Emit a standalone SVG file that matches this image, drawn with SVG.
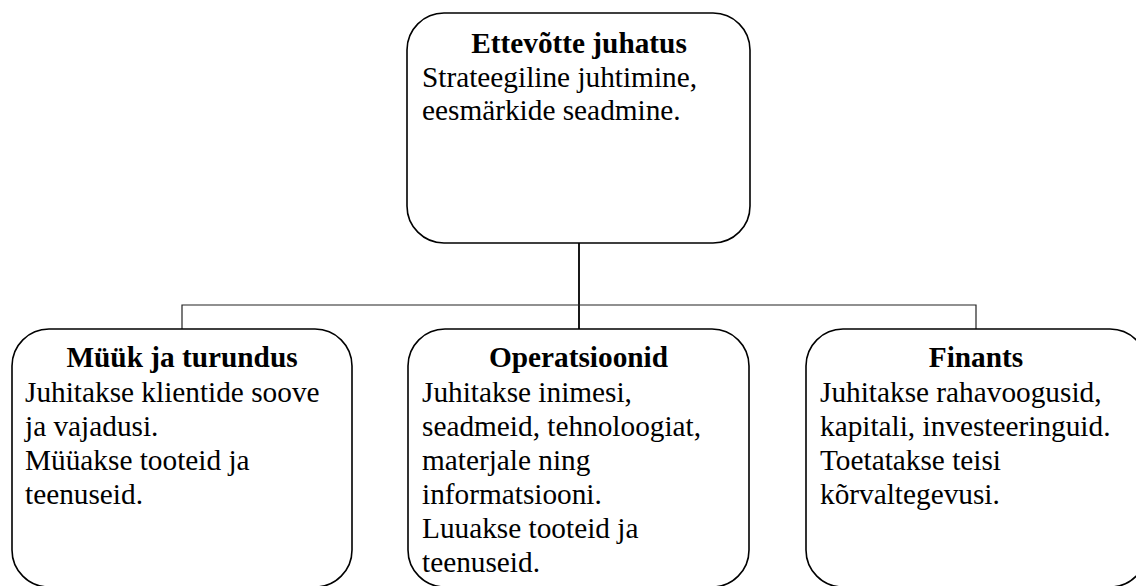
<svg xmlns="http://www.w3.org/2000/svg" width="1136" height="586" viewBox="0 0 1136 586">
<style>
.box{fill:#fff;stroke:#000;stroke-width:1.6}
.conn{stroke:#222;stroke-width:1.2;fill:none}
.main{stroke:#000;stroke-width:1.8;fill:none}
text{font-family:"Liberation Serif","Times New Roman",serif;font-size:29.3px;fill:#000}
.t{font-weight:bold;text-anchor:middle}
</style>
<rect width="1136" height="586" fill="#fff"/>
<g id="connectors">
<line class="main" x1="579" y1="243" x2="579" y2="329"/>
<polyline class="conn" points="182,329 182,305 976,305 976,329"/>
</g>
<g id="juhatus">
<rect class="box" x="407" y="13" width="343" height="230" rx="37" ry="37"/>
<text class="t" x="579" y="53">Ettevõtte juhatus</text>
<text x="422" y="86.5">Strateegiline juhtimine,</text>
<text x="422" y="120">eesmärkide seadmine.</text>
</g>
<g id="myyk">
<rect class="box" x="12" y="329" width="340" height="258" rx="37" ry="37"/>
<text class="t" x="182" y="367">Müük ja turundus</text>
<text x="25" y="401.5">Juhitakse klientide soove</text>
<text x="25" y="435.5">ja vajadusi.</text>
<text x="25" y="469.5">Müüakse tooteid ja</text>
<text x="25" y="503.5">teenuseid.</text>
</g>
<g id="operatsioonid">
<rect class="box" x="408" y="329" width="341" height="258" rx="37" ry="37"/>
<text class="t" x="578.5" y="367">Operatsioonid</text>
<text x="422" y="401.5">Juhitakse inimesi,</text>
<text x="422" y="435.5">seadmeid, tehnoloogiat,</text>
<text x="422" y="469.5">materjale ning</text>
<text x="422" y="503.5">informatsiooni.</text>
<text x="422" y="537.5">Luuakse tooteid ja</text>
<text x="422" y="571.5">teenuseid.</text>
</g>
<g id="finants">
<rect class="box" x="806" y="329" width="341" height="258" rx="37" ry="37"/>
<text class="t" x="976" y="367">Finants</text>
<text x="820" y="401.5">Juhitakse rahavoogusid,</text>
<text x="820" y="435.5">kapitali, investeeringuid.</text>
<text x="820" y="469.5">Toetatakse teisi</text>
<text x="820" y="503.5">kõrvaltegevusi.</text>
</g>
</svg>
